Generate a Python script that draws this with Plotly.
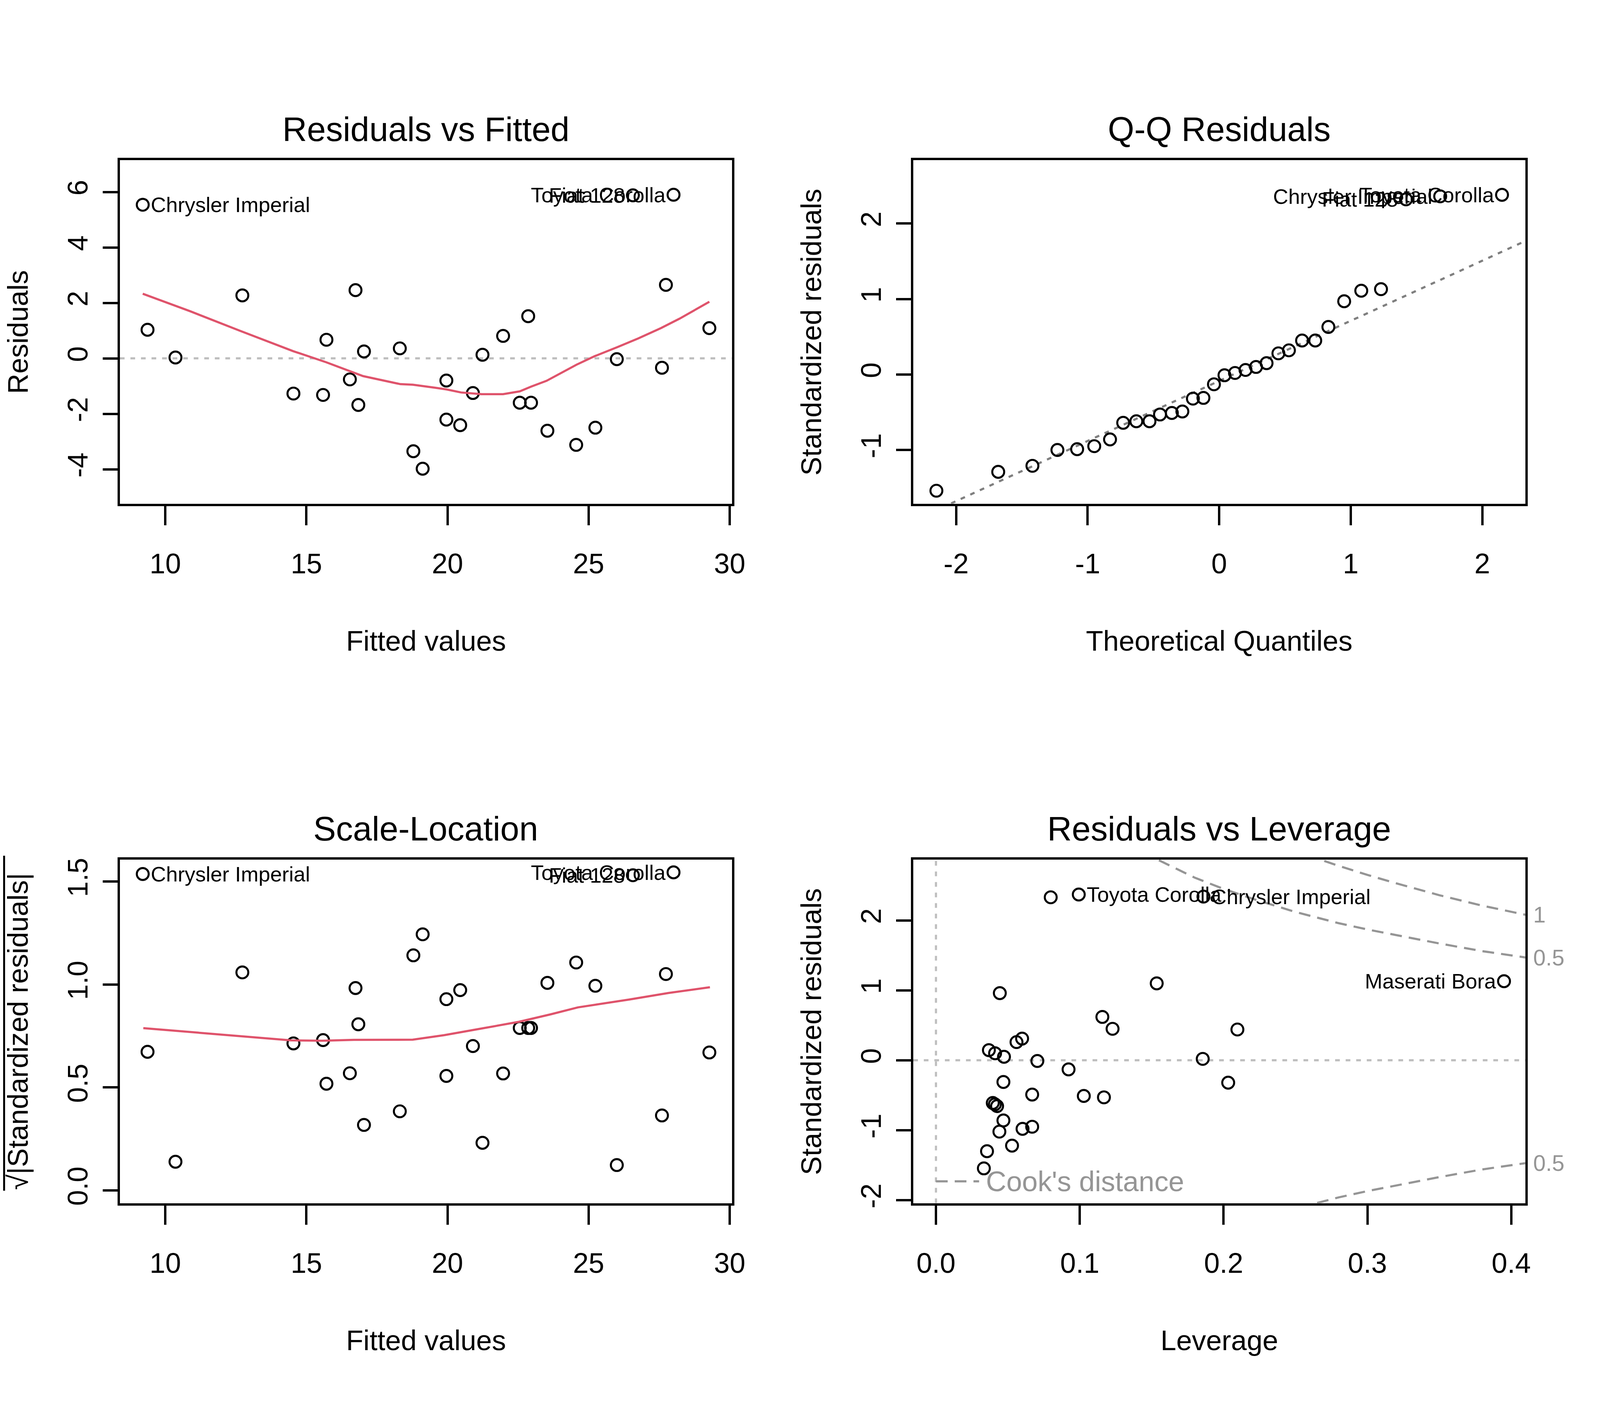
import plotly.graph_objects as go

# --- data (lm diagnostics, 32 cars) ---
fitted = [9.20, 9.37, 10.36, 12.73, 14.54, 15.59, 15.71, 16.54, 16.74, 16.84, 17.04, 18.31,
          18.79, 19.12, 19.96, 19.96, 20.45, 20.90, 21.24, 21.97, 22.56, 22.86, 22.96, 23.54,
          24.56, 25.24, 26.00, 26.57, 27.60, 27.74, 28.01, 29.28]
resid = [5.54, 1.03, 0.03, 2.27, -1.27, -1.32, 0.67, -0.76, 2.46, -1.68, 0.25, 0.36,
         -3.35, -3.98, -0.80, -2.21, -2.41, -1.25, 0.13, 0.81, -1.60, 1.52, -1.60, -2.61,
         -3.12, -2.50, -0.03, 5.88, -0.34, 2.65, 5.90, 1.09]
sqrt_abs = [1.537, 0.673, 0.139, 1.059, 0.714, 0.730, 0.518, 0.569, 0.983, 0.807, 0.318, 0.384,
            1.142, 1.244, 0.556, 0.929, 0.973, 0.701, 0.231, 0.568, 0.789, 0.789, 0.789, 1.008,
            1.107, 0.994, 0.123, 1.531, 0.364, 1.051, 1.545, 0.670]

# smoothers (red lines)
rf_smooth_x = [9.20, 10.88, 12.63, 14.53, 15.70, 17.01, 18.33, 18.77, 19.56, 19.96, 20.48, 21.21,
               21.97, 22.56, 22.96, 23.51, 24.57, 25.22, 26.03, 26.76, 27.56, 28.22, 29.28]
rf_smooth_y = [2.33, 1.70, 1.00, 0.26, -0.14, -0.64, -0.93, -0.95, -1.06, -1.12, -1.23, -1.29,
               -1.29, -1.19, -1.02, -0.81, -0.23, 0.08, 0.41, 0.72, 1.09, 1.43, 2.04]
sl_smooth_x = [9.22, 10.40, 12.49, 14.45, 15.56, 16.68, 18.77, 19.88, 21.28, 22.53, 23.65, 24.62,
               26.44, 27.83, 29.30]
sl_smooth_y = [0.788, 0.775, 0.750, 0.729, 0.727, 0.731, 0.732, 0.754, 0.788, 0.819, 0.855, 0.889,
               0.927, 0.959, 0.987]

qq_theory = [-2.15, -1.68, -1.42, -1.23, -1.08, -0.95, -0.83, -0.73, -0.63, -0.53, -0.45, -0.36,
             -0.28, -0.20, -0.12, -0.04, 0.04, 0.12, 0.20, 0.28, 0.36, 0.45, 0.53, 0.63,
             0.73, 0.83, 0.95, 1.08, 1.23, 1.42, 1.68, 2.15]
qq_std = [-1.54, -1.29, -1.21, -1.00, -0.99, -0.95, -0.86, -0.64, -0.62, -0.62, -0.53, -0.51,
          -0.49, -0.32, -0.31, -0.13, -0.01, 0.02, 0.06, 0.10, 0.15, 0.28, 0.32, 0.45,
          0.45, 0.63, 0.97, 1.11, 1.13, 2.32, 2.36, 2.38]
qq_line_x = [-2.33, 2.33]
qq_line_y = [-1.94, 1.77]

leverage = [0.0798, 0.0993, 0.186, 0.0444, 0.1535, 0.1157, 0.1228, 0.0599, 0.0560, 0.0368,
            0.0411, 0.0473, 0.0705, 0.1855, 0.0922, 0.0469, 0.2032, 0.0669, 0.1028, 0.1168,
            0.0395, 0.0410, 0.0425, 0.0469, 0.0669, 0.0602, 0.0441, 0.0529, 0.0355, 0.0333,
            0.395, 0.2096]
lev_std = [2.33, 2.37, 2.34, 0.96, 1.10, 0.62, 0.45, 0.31, 0.26, 0.145, 0.10, 0.05, -0.01,
           0.02, -0.13, -0.31, -0.32, -0.49, -0.51, -0.53, -0.61, -0.63, -0.655, -0.86, -0.95,
           -0.98, -1.02, -1.22, -1.30, -1.545, 1.13, 0.44]

# Cook's distance contours
cook05_x = [0.155, 0.16, 0.17, 0.18, 0.19, 0.20, 0.22, 0.25, 0.28, 0.30, 0.32, 0.35, 0.38, 0.41]
cook05_y = [2.86, 2.81, 2.71, 2.61, 2.53, 2.45, 2.31, 2.12, 1.96, 1.87, 1.79, 1.67, 1.56, 1.47]
cook1_x = [0.27, 0.28, 0.30, 0.32, 0.35, 0.38, 0.41]
cook1_y = [2.85, 2.78, 2.65, 2.53, 2.36, 2.21, 2.08]
cook05n_x = [0.265, 0.28, 0.30, 0.32, 0.35, 0.38, 0.41]
cook05n_y = [-2.04, -1.96, -1.87, -1.79, -1.67, -1.56, -1.47]
cook_labels = ["1", "0.5", "0.5"]
cook_label_y = [2.08, 1.47, -1.47]

rf_labels = [("Chrysler Imperial", 9.20, 5.54, "left"), ("Fiat 128", 26.57, 5.88, "right"),
             ("Toyota Corolla", 28.01, 5.90, "right")]
sl_labels = [("Chrysler Imperial", 9.20, 1.537, "left"), ("Fiat 128", 26.57, 1.531, "right"),
             ("Toyota Corolla", 28.01, 1.545, "right")]
qq_labels = [("Fiat 128", 1.42, 2.32, "right"), ("Chrysler Imperial", 1.68, 2.36, "right"),
             ("Toyota Corolla", 2.15, 2.38, "right")]
lev_labels = [("Toyota Corolla", 0.0993, 2.37, "left"), ("Chrysler Imperial", 0.186, 2.34, "left"),
              ("Maserati Bora", 0.395, 1.13, "right")]

FONT = "Liberation Sans, Arial, sans-serif"
RW, RH = 5400, 3600          # reference pixel grid
W, H = 4096, 3600            # the browser page is 4096 css px wide
SX = W / RW                  # horizontal squeeze of the reference grid
SF = 0.87                    # text / marker scale
LW = 5.5
RED = "#DF536B"
GRAY = "#BEBEBE"
COOK = "#959595"

fig = go.Figure()


def pts(x, y, ax):
    fig.add_trace(go.Scatter(x=x, y=y, mode="markers", xaxis="x" + ax, yaxis="y" + ax,
                             marker=dict(symbol="circle-open", size=35 * SF, color="black",
                                         line=dict(width=5.2, color="black")),
                             showlegend=False, hoverinfo="skip"))


def line(x, y, ax, color, dash="solid"):
    fig.add_trace(go.Scatter(x=x, y=y, mode="lines", xaxis="x" + ax, yaxis="y" + ax,
                             line=dict(color=color, width=LW, dash=dash),
                             showlegend=False, hoverinfo="skip"))


DOT = "12px,15px"
DASH = "30px,18px"

# panel 1: residuals vs fitted
line([8.39, 30.08], [0, 0], "", GRAY, DOT)
pts(fitted, resid, "")
line(rf_smooth_x, rf_smooth_y, "", RED)
# panel 2: Q-Q
line(qq_line_x, qq_line_y, "2", "#7F7F7F", DOT)
pts(qq_theory, qq_std, "2")
# panel 3: scale-location
pts(fitted, sqrt_abs, "3")
line(sl_smooth_x, sl_smooth_y, "3", RED)
# panel 4: residuals vs leverage
line([-0.0158, 0.4098], [0, 0], "4", GRAY, DOT)
line([0, 0], [-2.042, 2.869], "4", GRAY, DOT)
line(cook05_x, cook05_y, "4", COOK, DASH)
line(cook1_x, cook1_y, "4", COOK, DASH)
line(cook05n_x, cook05n_y, "4", COOK, DASH)
pts(leverage, lev_std, "4")
line([0.0, 0.0300], [-1.73, -1.73], "4", COOK, DASH)

xd = [[408 / RW, 2491 / RW], [3108 / RW, 5191 / RW]]
yd = [[1 - 1292 / RH, 1 - 408 / RH], [1 - 3092 / RH, 1 - 2208 / RH]]

tickfont = dict(family=FONT, size=83 * SF, color="black")


def axis(dom, rng, tv, tt, anchor, is_y=False):
    d = dict(domain=dom, range=rng, tickvals=tv, ticktext=tt, showgrid=False, zeroline=False,
             showline=True, mirror=True, linecolor="black", linewidth=LW,
             ticks="outside", tickwidth=LW, tickcolor="black",
             tickfont=tickfont, anchor=anchor, fixedrange=True)
    if is_y:
        d.update(tickangle=-90, ticklen=round(50 * SX), ticklabelstandoff=10)
    else:
        d.update(ticklen=50, ticklabelstandoff=36)
    return d


fig.update_layout(
    width=W, height=H, margin=dict(l=0, r=0, t=0, b=0),
    paper_bgcolor="white", plot_bgcolor="white",
    xaxis=axis(xd[0], [8.39, 30.08], [10, 15, 20, 25, 30], ["10", "15", "20", "25", "30"], "y"),
    yaxis=axis(yd[0], [-5.24, 7.15], [-4, -2, 0, 2, 4, 6], ["-4", "-2", "0", "2", "4", "6"],
               "x", True),
    xaxis2=axis(xd[1], [-2.326, 2.327], [-2, -1, 0, 1, 2], ["-2", "-1", "0", "1", "2"], "y2"),
    yaxis2=axis(yd[0], [-1.711, 2.840], [-1, 0, 1, 2], ["-1", "0", "1", "2"], "x2", True),
    xaxis3=axis(xd[0], [8.39, 30.08], [10, 15, 20, 25, 30], ["10", "15", "20", "25", "30"], "y3"),
    yaxis3=axis(yd[1], [-0.062, 1.607], [0, 0.5, 1, 1.5], ["0.0", "0.5", "1.0", "1.5"],
                "x3", True),
    xaxis4=axis(xd[1], [-0.0158, 0.4098], [0, 0.1, 0.2, 0.3, 0.4],
                ["0.0", "0.1", "0.2", "0.3", "0.4"], "y4"),
    yaxis4=axis(yd[1], [-2.042, 2.869], [-2, -1, 0, 1, 2], ["-2", "-1", "0", "1", "2"],
                "x4", True),
)

ann = []


def txt(text, x, y, size=83, color="black", angle=0, xanchor="center", xref="paper",
        yref="paper", xshift=0):
    ann.append(dict(text=text, x=x, y=y, xref=xref, yref=yref, showarrow=False,
                    xanchor=xanchor, yanchor="middle", textangle=angle, xshift=xshift * SX,
                    font=dict(family=FONT, size=size * SF, color=color)))


cx = [1449.5 / RW, 4149.5 / RW]
txt("Residuals vs Fitted", cx[0], 1 - 328 / RH, 100)
txt("Q-Q Residuals", cx[1], 1 - 328 / RH, 100)
txt("Scale-Location", cx[0], 1 - 2128 / RH, 100)
txt("Residuals vs Leverage", cx[1], 1 - 2128 / RH, 100)
txt("Fitted values", cx[0], 1 - 1645 / RH)
txt("Theoretical Quantiles", cx[1], 1 - 1645 / RH)
txt("Fitted values", cx[0], 1 - 3445 / RH)
txt("Leverage", cx[1], 1 - 3445 / RH)
txt("Residuals", 61 / RW, 1 - 850 / RH, angle=-90)
txt("Standardized residuals", 2761 / RW, 1 - 850 / RH, angle=-90)
txt("√|Standardized residuals|", 61 / RW, 1 - 2650 / RH, angle=-90)
txt("Standardized residuals", 2761 / RW, 1 - 2650 / RH, angle=-90)

for labels, ax in [(rf_labels, ""), (qq_labels, "2"), (sl_labels, "3"), (lev_labels, "4")]:
    for name, x, y, side in labels:
        txt(name, x, y, 62, xanchor=side, xref="x" + ax, yref="y" + ax,
            xshift=24 if side == "left" else -24)

txt("Cook's distance", 0.0343, -1.73, 83, COOK, xanchor="left", xref="x4", yref="y4")
for lab, yy in zip(cook_labels, cook_label_y):
    txt(lab, 5191 / RW, yy, 66, COOK, xanchor="left", yref="y4", xshift=24)

fig.update_layout(annotations=ann)

# bar of the square-root sign
fig.add_shape(type="line", xref="paper", yref="paper", x0=14 / RW, x1=14 / RW,
              y0=1 - 2198 / RH, y1=1 - 3060 / RH, line=dict(color="black", width=5))

fig.write_html("out.html", config={"displayModeBar": False},
               post_script="document.body.style.margin='0';")
